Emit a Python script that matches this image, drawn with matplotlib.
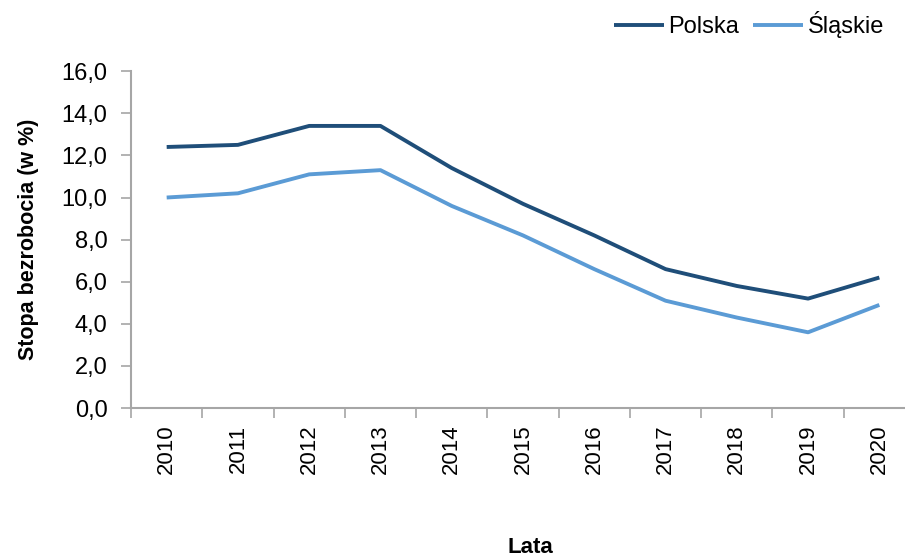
import numpy as np
import matplotlib
matplotlib.use("Agg")
import matplotlib.pyplot as plt
from matplotlib.ticker import FixedLocator, FuncFormatter

plt.rcParams['font.family'] = ['Liberation Sans', 'DejaVu Sans']

years = ["2010", "2011", "2012", "2013", "2014", "2015", "2016", "2017", "2018", "2019", "2020"]
polska = [12.4, 12.5, 13.4, 13.4, 11.4, 9.7, 8.2, 6.6, 5.8, 5.2, 6.2]
slaskie = [10.0, 10.2, 11.1, 11.3, 9.6, 8.2, 6.6, 5.1, 4.3, 3.6, 4.9]

fig = plt.figure(figsize=(9.05, 5.56), dpi=100)
ax = fig.add_axes([0.1448, 0.266, 0.8552, 0.606])

x = np.arange(len(years))
ax.plot(x, polska, color='#1F4E79', lw=2.8, label='Polska', solid_capstyle='butt')
ax.plot(x, slaskie, color='#5B9BD5', lw=2.8, label='Śląskie', solid_capstyle='butt')

ax.set_xlim(-0.5, 10.36)
ax.set_ylim(0, 16)
ax.set_yticks(np.arange(0, 16.1, 2))
ax.yaxis.set_major_formatter(FuncFormatter(lambda v, p: f"{v:.1f}".replace('.', ',')))
ax.set_xticks(x)
ax.set_xticklabels(years, rotation=90)
ax.xaxis.set_minor_locator(FixedLocator(np.arange(-0.5, 10.6, 1)))
ax.tick_params(axis='x', which='major', length=0, pad=12, labelsize=16)
ax.tick_params(axis='x', which='minor', length=7, color='#A6A6A6', width=1.2, direction='out')
ax.tick_params(axis='y', length=7, color='#A6A6A6', width=1.2, labelsize=17, pad=10)

for s in ['top', 'right']:
    ax.spines[s].set_visible(False)
for s in ['left', 'bottom']:
    ax.spines[s].set_color('#A6A6A6')
    ax.spines[s].set_linewidth(1.5)

ax.set_ylabel("Stopa bezrobocia (w %)", fontsize=15.5, fontweight='bold', labelpad=16)
fig.text(0.586, 0.006, "Lata", fontsize=16, fontweight='bold', ha='center', va='baseline')

leg = ax.legend(loc='lower right', bbox_to_anchor=(0.985, 1.07), ncol=2, frameon=False,
                fontsize=17, handlelength=2.1, handletextpad=0.2, columnspacing=0.6,
                borderaxespad=0)

fig.savefig("out.png", dpi=100)
